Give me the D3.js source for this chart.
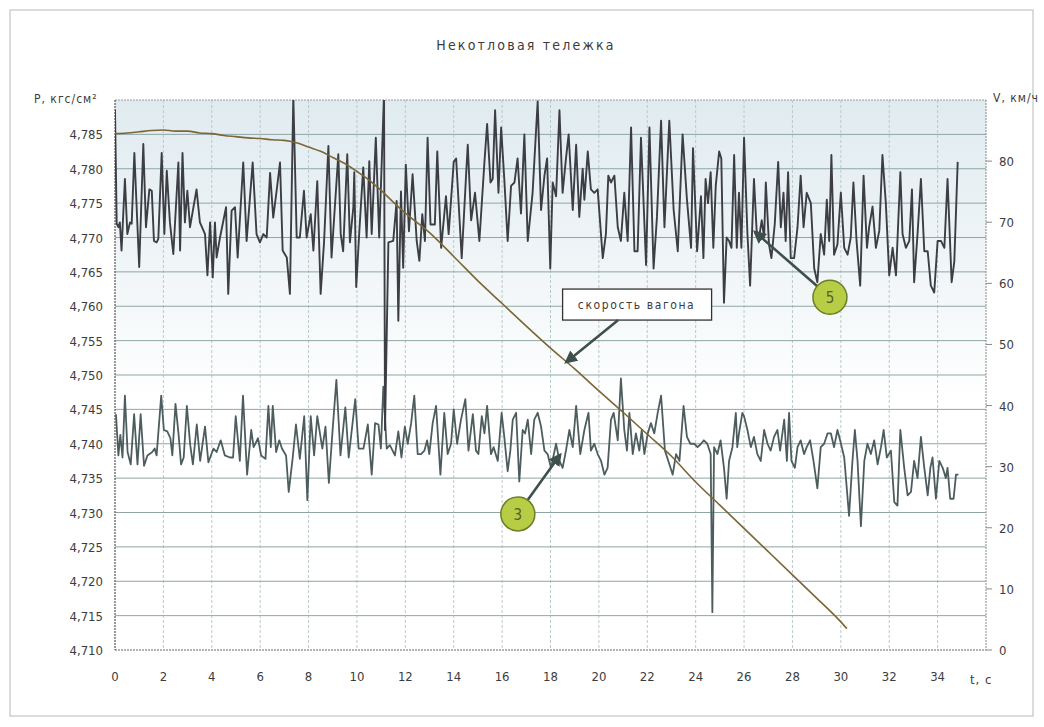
<!DOCTYPE html>
<html>
<head>
<meta charset="utf-8">
<script src="https://cdn.jsdelivr.net/npm/d3@7"></script>
<style>
  body { margin: 0; background: #fff; }
  text { font-family: "DejaVu Sans Condensed", "Liberation Sans Narrow", "DejaVu Sans", sans-serif; fill: #3c3c3c; }
</style>
</head>
<body>
<div id="chart"></div>
<script>
// time axis ticks (s), pressure ticks (kgf/cm2), speed ticks (km/h)
var tTicks = d3.range(0, 35, 2);
var pTicks = [4.710, 4.715, 4.720, 4.725, 4.730, 4.735, 4.740, 4.745, 4.750, 4.755, 4.760, 4.765, 4.770, 4.775, 4.780, 4.785];
var vTicks = [0, 10, 20, 30, 40, 50, 60, 70, 80];

// wagon speed, [t, V]
var speed = [[0,84.5],[0.5,84.6],[1,84.8],[1.5,85.0],[2,85.1],[2.5,84.9],[3,84.9],[3.5,84.6],[4,84.5],[4.5,84.2],
  [5,84.0],[5.5,83.8],[6,83.7],[6.5,83.5],[7,83.4],[7.5,83.0],[8,82.3],[8.5,81.6],[9,80.6],[9.5,79.6],[10,78.3],
  [10.5,76.9],[11,75.2],[11.5,73.3],[12,71.5],[13,68.3],[14,64.4],[15,60.4],[16,56.7],[17,53.0],[18,49.4],[19,46.0],
  [20,42.4],[21,38.9],[22,35.3],[23,31.7],[24,27.5],[25,23.7],[26,19.9],[27,16.1],[28,12.3],[29,8.5],[30,4.6],[30.25,3.5]];

// pressure, sensor 5, [t, P]
var series5 = [[0.00,4.7886],[0.07,4.7720],[0.14,4.7715],[0.20,4.7722],[0.27,4.7681],[0.41,4.7785],[0.51,4.7705],[0.62,4.7722],
  [0.69,4.7720],[0.80,4.7823],[1.00,4.7657],[1.17,4.7836],[1.28,4.7715],[1.42,4.7770],[1.52,4.7768],[1.61,4.7695],[1.72,4.7693],
  [1.79,4.7698],[1.93,4.7823],[2.04,4.7705],[2.14,4.7797],[2.27,4.7722],[2.41,4.7676],[2.62,4.7809],[2.69,4.7681],[2.79,4.7823],
  [2.89,4.7722],[2.99,4.7768],[3.10,4.7715],[3.37,4.7770],[3.51,4.7722],[3.72,4.7705],[3.82,4.7645],[3.93,4.7722],[4.04,4.7642],
  [4.13,4.7722],[4.20,4.7671],[4.34,4.7700],[4.59,4.7744],[4.68,4.7618],[4.82,4.7739],[4.96,4.7744],[5.07,4.7671],[5.30,4.7809],
  [5.44,4.7695],[5.69,4.7809],[5.85,4.7705],[5.99,4.7693],[6.13,4.7705],[6.27,4.7700],[6.41,4.7794],[6.54,4.7729],[6.68,4.7768],
  [6.82,4.7809],[6.93,4.7681],[7.10,4.7671],[7.23,4.7618],[7.37,4.7905],[7.51,4.7700],[7.64,4.7700],[7.81,4.7768],[7.92,4.7700],
  [8.09,4.7734],[8.20,4.7681],[8.36,4.7782],[8.50,4.7618],[8.64,4.7693],[8.82,4.7833],[8.95,4.7671],[9.23,4.7821],[9.33,4.7705],
  [9.43,4.7680],[9.60,4.7821],[9.71,4.7693],[9.85,4.7744],[9.89,4.7795],[9.97,4.7628],[10.10,4.7710],[10.26,4.7802],[10.40,4.7700],
  [10.51,4.7811],[10.61,4.7705],[10.78,4.7845],[10.92,4.7700],[11.12,4.7910],[11.16,4.7420],[11.30,4.7693],[11.50,4.7695],
  [11.64,4.7753],[11.71,4.7579],[11.82,4.7767],[11.91,4.7656],[12.02,4.7806],[12.15,4.7709],[12.30,4.7792],[12.47,4.7695],
  [12.58,4.7666],[12.70,4.7734],[12.81,4.7695],[12.92,4.7845],[13.04,4.7719],[13.22,4.7719],[13.32,4.7825],[13.48,4.7685],
  [13.68,4.7760],[13.79,4.7705],[14.00,4.7810],[14.10,4.7815],[14.33,4.7670],[14.51,4.7790],[14.58,4.7835],[14.72,4.7725],
  [14.88,4.7765],[15.06,4.7695],[15.27,4.7810],[15.38,4.7865],[15.52,4.7780],[15.61,4.7785],[15.71,4.7885],[15.85,4.7765],
  [15.96,4.7860],[16.09,4.7785],[16.23,4.7695],[16.37,4.7775],[16.51,4.7780],[16.64,4.7815],[16.78,4.7735],[16.92,4.7850],
  [17.06,4.7695],[17.26,4.7765],[17.47,4.7898],[17.61,4.7740],[17.75,4.7790],[17.86,4.7815],[17.99,4.7655],[18.09,4.7780],
  [18.23,4.7760],[18.37,4.7885],[18.50,4.7765],[18.64,4.7815],[18.75,4.7850],[18.92,4.7740],[19.06,4.7835],[19.19,4.7730],
  [19.33,4.7800],[19.40,4.7755],[19.54,4.7825],[19.67,4.7770],[19.81,4.7765],[19.95,4.7770],[20.16,4.7670],[20.29,4.7705],
  [20.39,4.7790],[20.50,4.7780],[20.64,4.7790],[20.78,4.7715],[20.91,4.7695],[21.05,4.7765],[21.19,4.7695],[21.33,4.7860],
  [21.47,4.7680],[21.60,4.7680],[21.74,4.7845],[21.95,4.7660],[22.09,4.7860],[22.26,4.7655],[22.40,4.7730],[22.57,4.7870],
  [22.71,4.7715],[22.91,4.7870],[23.09,4.7740],[23.26,4.7680],[23.46,4.7850],[23.64,4.7755],[23.81,4.7685],[23.89,4.7830],
  [24.06,4.7680],[24.22,4.7760],[24.32,4.7670],[24.41,4.7785],[24.51,4.7750],[24.62,4.7795],[24.73,4.7685],[24.83,4.7775],
  [24.97,4.7825],[25.06,4.7815],[25.17,4.7605],[25.28,4.7700],[25.38,4.7695],[25.48,4.7685],[25.59,4.7820],[25.70,4.7685],
  [25.79,4.7765],[25.89,4.7685],[26.00,4.7845],[26.14,4.7705],[26.25,4.7630],[26.41,4.7785],[26.52,4.7710],[26.62,4.7700],
  [26.73,4.7725],[26.83,4.7700],[26.90,4.7780],[27.03,4.7690],[27.13,4.7670],[27.27,4.7720],[27.41,4.7810],[27.52,4.7715],
  [27.63,4.7765],[27.72,4.7695],[27.82,4.7795],[27.93,4.7670],[28.07,4.7670],[28.21,4.7715],[28.34,4.7790],[28.46,4.7715],
  [28.59,4.7765],[28.76,4.7750],[28.90,4.7655],[29.03,4.7635],[29.17,4.7705],[29.31,4.7675],[29.42,4.7755],[29.52,4.7695],
  [29.61,4.7820],[29.72,4.7675],[29.86,4.7690],[30.00,4.7765],[30.14,4.7685],[30.28,4.7675],[30.41,4.7700],[30.52,4.7780],
  [30.65,4.7695],[30.80,4.7630],[30.94,4.7790],[31.08,4.7685],[31.17,4.7715],[31.31,4.7745],[31.45,4.7685],[31.59,4.7710],
  [31.72,4.7820],[31.86,4.7750],[32.00,4.7645],[32.14,4.7685],[32.28,4.7645],[32.46,4.7795],[32.55,4.7705],[32.69,4.7685],
  [32.83,4.7695],[32.94,4.7770],[33.03,4.7635],[33.17,4.7705],[33.31,4.7785],[33.45,4.7680],[33.59,4.7680],[33.72,4.7630],
  [33.86,4.7620],[34.00,4.7695],[34.14,4.7695],[34.28,4.7685],[34.41,4.7785],[34.58,4.7635],[34.69,4.7665],[34.83,4.7810]];

// pressure, sensor 3, [t, P]
var series3 = [[0.04,4.7443],[0.14,4.7383],[0.22,4.7413],[0.31,4.7380],[0.41,4.7470],[0.52,4.7388],[0.65,4.7370],[0.79,4.7443],
  [0.93,4.7370],[1.06,4.7443],[1.20,4.7368],[1.34,4.7383],[1.54,4.7388],[1.64,4.7393],[1.72,4.7383],[1.91,4.7470],[2.02,4.7420],
  [2.16,4.7418],[2.29,4.7408],[2.37,4.7383],[2.50,4.7458],[2.63,4.7413],[2.73,4.7370],[2.84,4.7380],[2.97,4.7455],[3.11,4.7398],
  [3.22,4.7370],[3.38,4.7428],[3.52,4.7375],[3.72,4.7425],[3.86,4.7373],[4.07,4.7393],[4.20,4.7388],[4.37,4.7405],[4.54,4.7383],
  [4.75,4.7380],[4.88,4.7380],[4.99,4.7440],[5.16,4.7375],[5.29,4.7470],[5.46,4.7355],[5.63,4.7420],[5.73,4.7395],[5.91,4.7408],
  [6.04,4.7383],[6.22,4.7378],[6.34,4.7455],[6.44,4.7395],[6.52,4.7455],[6.66,4.7388],[6.79,4.7405],[6.90,4.7393],[7.07,4.7383],
  [7.18,4.7330],[7.34,4.7378],[7.48,4.7428],[7.64,4.7378],[7.82,4.7440],[7.95,4.7318],[8.09,4.7440],[8.23,4.7383],[8.36,4.7440],
  [8.57,4.7393],[8.70,4.7425],[8.84,4.7343],[8.98,4.7413],[9.15,4.7493],[9.32,4.7383],[9.52,4.7453],[9.66,4.7380],[9.93,4.7465],
  [10.07,4.7393],[10.27,4.7393],[10.45,4.7428],[10.61,4.7355],[10.75,4.7430],[10.89,4.7428],[10.99,4.7393],[11.09,4.7483],
  [11.23,4.7393],[11.36,4.7398],[11.57,4.7383],[11.71,4.7418],[11.84,4.7380],[11.98,4.7425],[12.10,4.7400],[12.24,4.7430],
  [12.37,4.7470],[12.51,4.7385],[12.65,4.7385],[12.79,4.7390],[12.90,4.7405],[12.99,4.7385],[13.13,4.7430],[13.27,4.7455],
  [13.45,4.7355],[13.61,4.7445],[13.75,4.7385],[13.89,4.7400],[14.00,4.7450],[14.14,4.7400],[14.30,4.7435],[14.48,4.7465],
  [14.61,4.7390],[14.79,4.7443],[14.92,4.7390],[15.02,4.7385],[15.16,4.7440],[15.27,4.7415],[15.38,4.7455],[15.54,4.7385],
  [15.65,4.7395],[15.82,4.7375],[15.98,4.7445],[16.09,4.7410],[16.23,4.7360],[16.34,4.7390],[16.44,4.7435],[16.58,4.7445],
  [16.71,4.7345],[16.85,4.7420],[16.95,4.7415],[17.06,4.7435],[17.20,4.7385],[17.33,4.7435],[17.47,4.7445],[17.61,4.7425],
  [17.75,4.7390],[17.88,4.7385],[18.02,4.7365],[18.23,4.7400],[18.37,4.7375],[18.50,4.7365],[18.64,4.7390],[18.78,4.7420],
  [18.92,4.7395],[19.06,4.7455],[19.23,4.7385],[19.40,4.7420],[19.57,4.7445],[19.67,4.7390],[19.81,4.7400],[19.95,4.7385],
  [20.09,4.7375],[20.23,4.7355],[20.36,4.7365],[20.50,4.7435],[20.61,4.7445],[20.78,4.7405],[20.91,4.7495],[21.05,4.7420],
  [21.16,4.7390],[21.26,4.7445],[21.40,4.7385],[21.53,4.7415],[21.67,4.7390],[21.77,4.7420],[21.88,4.7385],[22.02,4.7415],
  [22.15,4.7430],[22.29,4.7415],[22.43,4.7445],[22.57,4.7470],[22.73,4.7390],[22.87,4.7375],[23.05,4.7355],[23.19,4.7385],
  [23.33,4.7375],[23.50,4.7455],[23.64,4.7410],[23.78,4.7400],[23.94,4.7400],[24.08,4.7395],[24.22,4.7400],[24.34,4.7405],
  [24.48,4.7400],[24.62,4.7385],[24.69,4.7155],[24.76,4.7395],[24.90,4.7385],[25.03,4.7405],[25.17,4.7365],[25.28,4.7320],
  [25.38,4.7375],[25.52,4.7395],[25.66,4.7445],[25.72,4.7395],[25.79,4.7415],[25.93,4.7445],[26.00,4.7440],[26.14,4.7420],
  [26.28,4.7395],[26.41,4.7410],[26.55,4.7385],[26.69,4.7375],[26.83,4.7420],[26.97,4.7400],[27.10,4.7390],[27.24,4.7410],
  [27.38,4.7420],[27.49,4.7390],[27.66,4.7435],[27.77,4.7375],[27.86,4.7445],[27.96,4.7375],[28.10,4.7365],[28.21,4.7395],
  [28.34,4.7405],[28.48,4.7385],[28.59,4.7395],[28.73,4.7405],[28.87,4.7375],[29.03,4.7335],[29.17,4.7395],[29.31,4.7400],
  [29.45,4.7415],[29.59,4.7415],[29.72,4.7395],[29.86,4.7420],[29.97,4.7405],[30.14,4.7380],[30.34,4.7295],[30.48,4.7375],
  [30.58,4.7420],[30.69,4.7375],[30.83,4.7280],[30.97,4.7375],[31.10,4.7400],[31.24,4.7385],[31.38,4.7405],[31.52,4.7370],
  [31.66,4.7395],[31.77,4.7420],[31.90,4.7380],[32.07,4.7390],[32.21,4.7315],[32.34,4.7310],[32.46,4.7420],[32.62,4.7365],
  [32.76,4.7325],[32.90,4.7330],[33.03,4.7375],[33.17,4.7350],[33.31,4.7410],[33.45,4.7365],[33.59,4.7325],[33.70,4.7365],
  [33.79,4.7380],[33.93,4.7320],[34.07,4.7375],[34.21,4.7365],[34.34,4.7350],[34.41,4.7365],[34.52,4.7320],[34.66,4.7320],
  [34.76,4.7355],[34.86,4.7355]];

var width = 1044, height = 727;
var plot = {left: 115, right: 986, top: 100, bottom: 650};

var svg = d3.select("#chart").append("svg")
    .attr("width", width)
    .attr("height", height);

var xScale = d3.scaleLinear().domain([0, 36]).range([plot.left, plot.right]),
    pScale = d3.scaleLinear().domain([4.710, 4.790]).range([plot.bottom, plot.top]),
    vScale = d3.scaleLinear().domain([0, 90]).range([plot.bottom, plot.top]);

// faint scanned-paper tint at the top of the plot
var defs = svg.append("defs");
var grad = defs.append("linearGradient").attr("id", "tint").attr("x1", 0).attr("y1", 0).attr("x2", 0).attr("y2", 1);
grad.append("stop").attr("offset", "0%").attr("stop-color", "#e0ebf0");
grad.append("stop").attr("offset", "30%").attr("stop-color", "#f0f5f7");
grad.append("stop").attr("offset", "55%").attr("stop-color", "#ffffff");
defs.append("clipPath").attr("id", "clip")
    .append("rect")
    .attr("x", plot.left).attr("y", plot.top)
    .attr("width", plot.right - plot.left).attr("height", plot.bottom - plot.top);

// outer frame
svg.append("rect")
    .attr("x", 10).attr("y", 10).attr("width", 1023).attr("height", 706)
    .attr("fill", "none").attr("stroke", "#b8b8b8").attr("stroke-width", 1);

svg.append("rect")
    .attr("x", plot.left).attr("y", plot.top)
    .attr("width", plot.right - plot.left).attr("height", plot.bottom - plot.top)
    .attr("fill", "url(#tint)");

// vertical grid every 2 s
svg.append("g").selectAll("line")
    .data(tTicks.slice(1))
    .enter().append("line")
    .attr("x1", function(d) { return xScale(d); })
    .attr("x2", function(d) { return xScale(d); })
    .attr("y1", plot.top).attr("y2", plot.bottom)
    .attr("stroke", "#b9caca").attr("stroke-width", 1).attr("stroke-dasharray", "3,2");

// horizontal grid on pressure ticks
svg.append("g").selectAll("line")
    .data(pTicks.concat([4.790]))
    .enter().append("line")
    .attr("x1", plot.left).attr("x2", plot.right)
    .attr("y1", function(d) { return pScale(d); })
    .attr("y2", function(d) { return pScale(d); })
    .attr("stroke", function(d) { return d == 4.710 ? "#666" : d == 4.790 ? "#999" : "#8fa6a3"; })
    .attr("stroke-width", 1)
    .attr("stroke-dasharray", function(d) { return d == 4.710 || d == 4.790 ? "2,1" : null; });

// left & right frame lines
svg.append("line").attr("x1", plot.left).attr("x2", plot.left).attr("y1", plot.top).attr("y2", plot.bottom)
    .attr("stroke", "#555").attr("stroke-width", 1.2).attr("stroke-dasharray", "2,1");
svg.append("line").attr("x1", plot.right).attr("x2", plot.right).attr("y1", plot.top).attr("y2", plot.bottom)
    .attr("stroke", "#888").attr("stroke-width", 1).attr("stroke-dasharray", "2,1");

// right tick marks
svg.append("g").selectAll("line")
    .data(vTicks)
    .enter().append("line")
    .attr("x1", plot.right).attr("x2", plot.right + 6)
    .attr("y1", function(d) { return vScale(d); })
    .attr("y2", function(d) { return vScale(d); })
    .attr("stroke", "#888");

var fmt = function(d) { return d3.format(".3f")(d).replace(".", ","); };

// axis labels
svg.append("g").selectAll("text")
    .data(pTicks)
    .enter().append("text")
    .attr("x", 103)
    .attr("y", function(d) { return pScale(d) + 5; })
    .attr("text-anchor", "end")
    .style("font-size", "13px")
    .text(fmt);

svg.append("g").selectAll("text")
    .data(vTicks)
    .enter().append("text")
    .attr("x", 999)
    .attr("y", function(d) { return vScale(d) + 5; })
    .style("font-size", "13px")
    .text(function(d) { return d; });

svg.append("g").selectAll("text")
    .data(tTicks)
    .enter().append("text")
    .attr("x", function(d) { return xScale(d); })
    .attr("y", 681)
    .attr("text-anchor", "middle")
    .style("font-size", "13px")
    .text(function(d) { return d; });

svg.append("text").attr("x", 34).attr("y", 103).style("font-size", "12px").style("letter-spacing", "1px").text("Р, кгс/см²");
svg.append("text").attr("x", 993).attr("y", 102).style("font-size", "12px").style("letter-spacing", "1px").text("V, км/ч");
svg.append("text").attr("x", 970).attr("y", 684).style("font-size", "13px").style("letter-spacing", "1px").text("t, c");

svg.append("text")
    .attr("x", 526).attr("y", 50)
    .attr("text-anchor", "middle")
    .style("font-size", "14px")
    .style("letter-spacing", "2.2px")
    .text("Некотловая тележка");

// data lines
var lineP = d3.line()
    .x(function(d) { return xScale(d[0]); })
    .y(function(d) { return pScale(d[1]); });
var lineV = d3.line()
    .x(function(d) { return xScale(d[0]); })
    .y(function(d) { return vScale(d[1]); })
    .curve(d3.curveMonotoneX);

var lines = svg.append("g").attr("clip-path", "url(#clip)");
lines.append("path").datum(series3)
    .attr("d", lineP).attr("fill", "none")
    .attr("stroke", "#4d5d5e").attr("stroke-width", 1.8).attr("stroke-linejoin", "round");
lines.append("path").datum(series5)
    .attr("d", lineP).attr("fill", "none")
    .attr("stroke", "#3c3e44").attr("stroke-width", 1.9).attr("stroke-linejoin", "round");
lines.append("path").datum(speed)
    .attr("d", lineV).attr("fill", "none")
    .attr("stroke", "#7a6638").attr("stroke-width", 1.6);

// annotations
defs.append("marker")
    .attr("id", "arrow").attr("viewBox", "0 0 10 10")
    .attr("refX", 8).attr("refY", 5)
    .attr("markerWidth", 5).attr("markerHeight", 5)
    .attr("orient", "auto")
    .append("path").attr("d", "M0,0L10,5L0,10z").attr("fill", "#3e4f4c");

function arrow(x1, y1, x2, y2) {
    svg.append("line")
        .attr("x1", x1).attr("y1", y1).attr("x2", x2).attr("y2", y2)
        .attr("stroke", "#3e4f4c").attr("stroke-width", 2.6)
        .attr("marker-end", "url(#arrow)");
}

// speed label box
var boxX = xScale(18.5), boxY = pScale(4.7625);
svg.append("rect")
    .attr("x", boxX).attr("y", boxY)
    .attr("width", 149).attr("height", 31)
    .attr("fill", "#fff").attr("stroke", "#333").attr("stroke-width", 1.3);
svg.append("text")
    .attr("x", boxX + 74).attr("y", boxY + 20)
    .attr("text-anchor", "middle")
    .style("font-size", "12px").style("letter-spacing", "1.6px")
    .text("скорость вагона");
arrow(xScale(20.8), boxY + 31, xScale(18.65), vScale(47.1));

// numbered markers
function marker(t, p, label, tx, tp) {
    var cx = xScale(t), cy = pScale(p);
    var dx = xScale(tx) - cx, dy = pScale(tp) - cy, len = Math.sqrt(dx * dx + dy * dy);
    arrow(cx + dx / len * 16, cy + dy / len * 16, xScale(tx), pScale(tp));
    svg.append("circle")
        .attr("cx", cx).attr("cy", cy).attr("r", 17)
        .attr("fill", "#b7cd45").attr("stroke", "#6d7d28").attr("stroke-width", 1.5);
    svg.append("text")
        .attr("x", cx).attr("y", cy + 6)
        .attr("text-anchor", "middle")
        .style("font-size", "15px")
        .style("fill", "#56602a")
        .text(label);
}
marker(29.55, 4.7613, "5", 26.45, 4.7708);
marker(16.65, 4.7298, "3", 18.4, 4.7384);
</script>
</body>
</html>
